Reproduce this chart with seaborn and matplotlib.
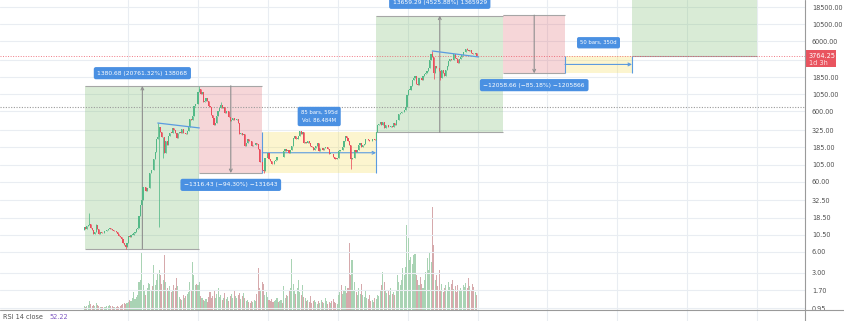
import numpy as np
import pandas as pd
import matplotlib
matplotlib.use("Agg")
import matplotlib.pyplot as plt
from matplotlib.lines import Line2D
from matplotlib.patches import Rectangle
import seaborn as sns

# ---------------- data (weekly bars from 2016-05-16) ----------------
start_date = "2016-05-16"
first_open = 12.4
close_2016 = [13.4, 12.7, 13.9, 14.5, 14.9, 13.3, 12.3, 10.8, 11.6, 14.3, 12.5, 10.9, 11.6, 11.1, 11.0,
              11.9, 11.9, 12.4, 12.9, 13.2, 12.9, 12.4, 11.9, 12.0, 11.6, 10.9, 10.2, 9.9, 9.3, 8.0, 7.6,
              7.1, 8.0]
close_2017 = [10.2, 9.8, 10.6, 10.6, 11.3, 11.4, 12.8, 13.1, 19.2, 28.3, 33, 50, 50, 43.5, 48, 48.5,
              79, 89, 88, 125, 160, 247, 260, 355, 309, 260, 260, 155, 225, 200, 270, 300, 298, 345,
              330, 295, 255, 295, 302, 297, 335, 297, 298, 290, 315, 355, 470, 460, 510, 720, 770, 755]
close_2018 = [1150, 1270, 1050, 1120, 810, 860, 940, 860, 720, 690, 540, 490, 385, 410, 510, 610, 670,
              750, 680, 705, 580, 600, 600, 495, 445, 455, 490, 450, 460, 470, 410, 290, 295, 275, 290,
              195, 210, 245, 230, 225, 195, 200, 200, 210, 205, 175, 115, 115, 88, 84, 130, 132, 155]
close_2019 = [125, 120, 108, 106, 120, 122, 136, 133, 135, 137, 135, 165, 175, 165, 170, 155, 170, 195,
              250, 265, 245, 245, 270, 315, 290, 310, 210, 220, 210, 225, 210, 195, 190, 170, 180, 195,
              215, 165, 180, 180, 170, 180, 185, 185, 175, 150, 150, 148, 133, 128, 127, 130]
close_2020 = [165, 170, 168, 190, 225, 265, 250, 225, 200, 125, 130, 130, 170, 158, 170, 197, 210, 187,
              200, 205, 240, 245, 232, 228, 225, 240, 240, 235, 310, 385, 395, 430, 390, 430, 350, 385,
              385, 355, 355, 375, 365, 410, 385, 455, 460, 550, 575, 590, 590, 640, 685, 1040]
close_2021 = [1230, 1230, 1390, 1660, 1810, 1930, 1480, 1420, 1820, 1800, 1680, 1920, 2080, 2140, 2240,
              2500, 3240, 3930, 3580, 2100, 2710, 2520, 2510, 2280, 1830, 2330, 2140, 1900, 2380, 2640,
              3140, 3320, 3280, 3230, 3930, 3440, 3400, 2930, 3390, 3590, 3850, 4170, 4290, 4610, 4570,
              4300, 4450, 4100, 3960, 3940, 4050, 3764.25]

# volume, millions
vol_2016 = [0.4, 0.3, 0.4, 0.5, 0.9, 0.6, 0.4, 0.5, 0.4, 0.7, 0.5, 0.4, 0.3, 0.3, 0.3, 0.3, 0.3, 0.4,
            0.4, 0.5, 0.4, 0.4, 0.3, 0.3, 0.3, 0.4, 0.3, 0.4, 0.5, 0.6, 0.7, 0.6, 0.7]
vol_2017 = [0.8, 1.0, 0.9, 1.2, 1.8, 1.1, 1.3, 1.5, 2.8, 3.0, 5.8, 2.5, 2.0, 1.5, 2.2, 2.7, 2.6, 2.0,
            2.4, 4.5, 2.5, 3.0, 3.6, 4.0, 3.5, 2.6, 3.0, 5.5, 2.8, 2.2, 2.0, 2.4, 1.8, 2.0, 2.5, 2.2,
            3.2, 2.4, 1.3, 1.1, 1.0, 1.5, 1.2, 1.4, 1.6, 1.8, 2.8, 2.0, 4.8, 3.5, 2.5, 2.6]
vol_2018 = [2.5, 2.8, 1.4, 1.2, 1.0, 0.9, 1.1, 0.8, 1.3, 1.8, 1.2, 1.4, 1.9, 1.2, 1.6, 2.2, 1.3, 1.5,
            1.0, 1.2, 1.7, 1.1, 1.3, 0.9, 1.4, 1.6, 1.2, 2.0, 1.4, 1.2, 1.5, 1.7, 1.1, 1.4, 1.7, 1.2,
            0.9, 1.0, 0.8, 0.7, 0.9, 0.8, 1.0, 0.9, 1.6, 4.2, 2.2, 2.0, 2.8, 2.6, 1.5, 1.8, 1.3]
vol_2019 = [1.0, 0.9, 1.1, 0.8, 0.9, 1.0, 1.2, 0.8, 0.9, 1.0, 0.7, 2.4, 1.2, 1.5, 1.4, 2.0, 2.2, 5.1,
            2.6, 2.0, 1.6, 2.2, 3.0, 1.8, 1.5, 2.5, 1.3, 1.2, 0.9, 1.0, 0.8, 1.4, 0.7, 0.9, 1.0, 0.8,
            0.6, 0.9, 0.7, 1.0, 0.8, 0.7, 1.2, 0.9, 0.6, 0.8, 0.7, 0.9, 1.1, 0.8, 0.7, 0.6]
vol_2020 = [1.5, 1.8, 2.5, 1.6, 2.0, 2.4, 1.7, 2.2, 6.7, 3.5, 5.0, 2.0, 2.8, 1.8, 1.5, 2.2, 1.6, 2.6,
            1.5, 1.3, 1.9, 1.2, 1.1, 1.5, 0.9, 1.0, 0.8, 1.2, 1.1, 1.5, 1.4, 2.0, 2.5, 3.8, 2.8, 2.0,
            1.7, 2.0, 1.5, 2.2, 1.6, 1.8, 1.5, 2.0, 3.5, 2.8, 2.5, 3.0, 4.2, 3.5, 4.3, 8.5]
vol_2021 = [7.2, 5.0, 5.3, 4.6, 5.5, 5.6, 3.5, 3.0, 2.5, 3.3, 2.6, 2.2, 3.0, 3.8, 5.2, 4.0, 5.7, 4.8,
            10.3, 6.5, 3.0, 3.5, 2.4, 4.0, 2.0, 2.6, 1.8, 2.2, 2.5, 1.9, 2.8, 2.3, 2.6, 3.0, 2.1, 2.4,
            1.8, 2.5, 2.0, 2.2, 1.9, 2.5, 2.3, 2.7, 2.2, 3.2, 2.4, 2.0, 2.6, 2.3, 1.8, 1.5]

# notable wick extremes (bar index -> price)
wick_high = {4: 21.5, 9: 15.0, 55: 411, 86: 1387.33, 102: 830, 260: 4368, 286: 4870}
wick_low = {31: 6.65, 56: 13.5, 59: 130, 134: 79.6, 199: 90, 261: 1730, 266: 1700}

price_ticks = [0.95, 1.70, 3.00, 6.00, 10.50, 18.50, 32.50, 60.00, 105.00, 185.00, 325.00, 600.00,
               1050.00, 1850.00, 3250.00, 6000.00, 10500.00, 18500.00]
hidden_tick = 3250.00
last_price = 3764.25
countdown = "1d 3h"
ref_level = 695
rsi_label = "RSI 14 close"
rsi_value = "52.22"
grid_years = list(range(2017, 2027))

box_kind = ["long", "short", "range", "long", "short", "range", "long"]
box_start = [1, 86, 133, 218, 313, 359, 409]
box_end = [86, 133, 218, 313, 359, 409, 502]
box_low = [6.65, 79.60, 79.60, 301.80, 2098.02, 2098.02, 3764.25]
box_high = [1387.33, 1396.03, 301.80, 13961.09, 14156.68, 3764.25, 174126.0]
box_label = ["1380.68 (20761.32%) 138068", "\u22121316.43 (\u221294.30%) \u2212131643",
             "85 bars, 595d\nVol. 86.484M", "13659.29 (4525.88%) 1365929",
             "\u221212058.66 (\u221285.18%) \u22121205866", "50 bars, 350d", ""]

trend_x = [[55, 86], [260, 294.5]]
trend_y = [[411, 350], [4368, 3590]]

# ---------------- derived series ----------------
closes = np.array(close_2016 + close_2017 + close_2018 + close_2019 + close_2020 + close_2021, float)
vols = np.array(vol_2016 + vol_2017 + vol_2018 + vol_2019 + vol_2020 + vol_2021, float)
n = len(closes)
idx = np.arange(n)
opens = np.concatenate([[first_open], closes[:-1]])
highs = np.maximum(opens, closes)
lows = np.minimum(opens, closes)
for k, v in wick_high.items():
    highs[k] = max(highs[k], v)
for k, v in wick_low.items():
    lows[k] = min(lows[k], v)
up = closes >= opens
t0 = pd.Timestamp(start_date)
year_pos = [(pd.Timestamp(f"{y}-01-01") - t0).days / 7.0 for y in grid_years]

# ---------------- styling / layout ----------------
sns.set_theme(style="white")
plt.rcParams["font.family"] = ["DejaVu Sans"]

W, H = 845, 321
PLOT_R, PANE_B = 805, 310
X0_PX, BAR_PX = 84.1, 1.3396
PX_PER_DEC = 70.18
LOG_TOP = np.log10(18500) + 7 / PX_PER_DEC
LOG_BOT = LOG_TOP - PANE_B / PX_PER_DEC

UP, DN = "#53b987", "#eb4d5c"
VUP, VDN = "#a9d3b4", "#d6a9ac"
GRID = "#e9edf2"
BLUE = "#4a90e2"
LINEBLUE = "#5b9be0"
fills = {"long": (0.42, 0.70, 0.37, 0.25), "short": (0.87, 0.36, 0.40, 0.25),
         "range": (0.97, 0.86, 0.26, 0.25)}

fig = plt.figure(figsize=(W / 100, H / 100), dpi=100)
fig.patch.set_facecolor("white")
rect = [0, 1 - PANE_B / H, PLOT_R / W, PANE_B / H]
ax_vol = fig.add_axes(rect)
ax = fig.add_axes(rect, sharex=ax_vol)
ax.patch.set_visible(False)
ax_rsi = fig.add_axes([0, 0, PLOT_R / W, (H - PANE_B) / H], sharex=ax_vol)

xlim = (-X0_PX / BAR_PX, (PLOT_R - X0_PX) / BAR_PX)
ax_vol.set_xlim(*xlim)
ax.set_yscale("log")
ax.set_ylim(10 ** LOG_BOT, 10 ** LOG_TOP)
ax_vol.set_ylim(0, vols.max() * PANE_B / 103)

for a in (ax, ax_vol, ax_rsi):
    for s in a.spines.values():
        s.set_visible(False)
ax_vol.set_xticks([]); ax_vol.set_yticks([])
ax_rsi.set_yticks([]); ax_rsi.tick_params(axis="x", length=0, labelbottom=False)
ax.tick_params(axis="x", length=0, labelbottom=False)

# grids
for yp in year_pos:
    ax_vol.axvline(yp, color=GRID, lw=0.8, zorder=0)
    ax_rsi.axvline(yp, color=GRID, lw=0.8, zorder=0)
for t in price_ticks:
    ax.axhline(t, color=GRID, lw=0.8, zorder=0.5)

# volume
ax_vol.bar(idx[up], vols[up], width=0.8, color=VUP, linewidth=0, zorder=1)
ax_vol.bar(idx[~up], vols[~up], width=0.8, color=VDN, linewidth=0, zorder=1)

# boxes
for kind, s, e, lo, hi, lab in zip(box_kind, box_start, box_end, box_low, box_high, box_label):
    ax.fill_between([s, e], lo, hi, color=fills[kind], linewidth=0, zorder=1)
    mid = (s + e) / 2
    if kind in ("long", "short"):
        ax.hlines([lo, hi], s, e, color="#a6a6a6", lw=0.8, zorder=1.2)
        a_from, a_to = (lo, hi) if kind == "long" else (hi, lo)
        ax.annotate("", xy=(mid, a_to), xytext=(mid, a_from),
                    arrowprops=dict(arrowstyle="->", color="#8f8f8f", lw=0.8,
                                    shrinkA=0, shrinkB=0, mutation_scale=5), zorder=1.3)
    else:
        gm = np.sqrt(lo * hi)
        ax.vlines([s, e], lo, hi, color=LINEBLUE, lw=0.8, zorder=1.3)
        ax.annotate("", xy=(e, gm), xytext=(s, gm),
                    arrowprops=dict(arrowstyle="->", color=LINEBLUE, lw=0.8,
                                    shrinkA=0, shrinkB=0, mutation_scale=5), zorder=1.3)
    if lab:
        above = kind in ("long", "range")
        ref_y = hi if above else lo
        fs = 3.8 if kind == "range" else 4.3
        off = 9.2 if above else -8.5
        if "\n" in lab:
            off = 11.5
        ax.annotate(lab, xy=(mid, ref_y), xytext=(0, off), textcoords="offset points",
                    ha="center", va="center", fontsize=fs, color="white", linespacing=1.75,
                    annotation_clip=False, zorder=6,
                    bbox=dict(boxstyle="round,pad=0.6,rounding_size=0.35", fc=BLUE, ec="none"))

# reference dotted lines
ax.axhline(last_price, color=DN, lw=0.7, ls=(0, (1, 1.6)), alpha=0.75, zorder=2)
ax.axhline(ref_level, color="#9a9a9a", lw=0.8, ls=(0, (1, 1.4)), zorder=2)

# candles
for m, col in ((up, UP), (~up, DN)):
    ax.vlines(idx[m], lows[m], highs[m], color=col, lw=0.55, zorder=3)
    bot = np.minimum(opens[m], closes[m])
    top = np.maximum(opens[m], closes[m])
    ax.bar(idx[m], np.maximum(top - bot, bot * 0.012), bottom=bot, width=0.85,
           color=col, linewidth=0, zorder=3)

# trend lines
for tx, ty in zip(trend_x, trend_y):
    sns.lineplot(x=tx, y=ty, ax=ax, color=LINEBLUE, lw=0.9, estimator=None, zorder=4)

# right price scale
ax.yaxis.tick_right()
ax.yaxis.set_minor_locator(matplotlib.ticker.NullLocator())
ax.set_yticks(price_ticks)
ax.set_yticklabels(["" if t == hidden_tick else f"{t:.2f}" for t in price_ticks])
ax.tick_params(axis="y", length=0, pad=5, labelsize=4.7, labelcolor="#505050")

# frame lines
fig.add_artist(Line2D([PLOT_R / W] * 2, [0, 1], transform=fig.transFigure, color="#9a9a9a", lw=0.8))
fig.add_artist(Line2D([0, 1], [1 - PANE_B / H] * 2, transform=fig.transFigure, color="#9a9a9a", lw=0.8))

# current price tag
fig.canvas.draw()
py = ax.transData.transform((0, last_price))[1]  # display px from bottom
tag_top, tag_bot = py + 5.5, py - 11
fig.add_artist(Rectangle((PLOT_R / W, tag_bot / H), 31 / W, (tag_top - tag_bot) / H,
                         transform=fig.transFigure, facecolor="#e9545f", edgecolor="none"))
fig.text((PLOT_R + 4) / W, py / H, f"{last_price:.2f}", fontsize=4.7, color="white", va="center")
fig.text((PLOT_R + 4) / W, (py - 7.5) / H, countdown, fontsize=4.7, color="#ffe3e5", va="center")

# RSI pane label
fig.text(3 / W, 1 - 317 / H, rsi_label, fontsize=4.7, color="#505050", va="center")
fig.text(49 / W, 1 - 317 / H, rsi_value, fontsize=4.7, color="#7e57c2", va="center")

fig.savefig("out.png", dpi=100, facecolor="white")
